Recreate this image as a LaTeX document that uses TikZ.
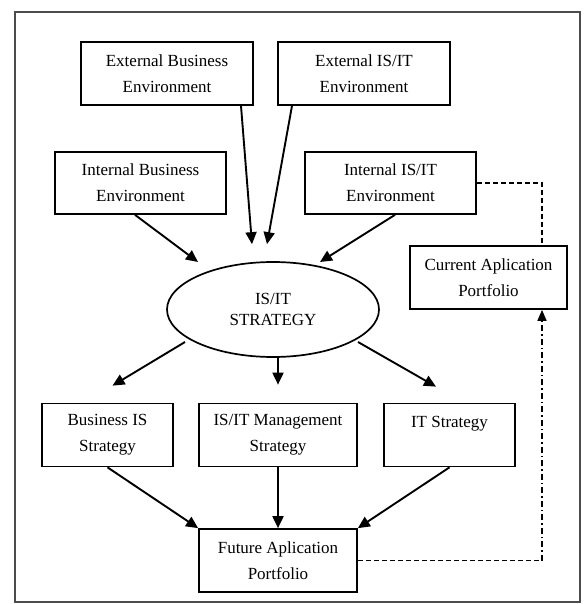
\documentclass[tikz,border=0pt]{standalone}
\usepackage{fontspec}
\setmainfont{Liberation Serif}
\usetikzlibrary{arrows.meta,shapes.geometric}
\begin{document}
\begin{tikzpicture}[x=1pt,y=-1pt,
  boxnode/.style={draw=black,line width=1.7pt,fill=white,align=center,inner sep=0pt,
    font=\fontsize{17}{26}\selectfont},
  arr/.style={line width=1.9pt,-{Triangle[length=12pt,width=11pt]}},
  dashline/.style={line width=1.6pt,dash pattern=on 5pt off 3pt},
  dashdotline/.style={line width=1.6pt,dash pattern=on 6pt off 3pt on 1.5pt off 3pt,-{Triangle[length=11pt,width=9pt]}}
]
\useasboundingbox (0,0) rectangle (586,604);
\draw[draw=black!70,line width=1.6pt] (15,12) rectangle (580,602);

\node[boxnode,minimum width=172pt,minimum height=63pt] (extbus) at (167,73.5) {External Business\\Environment};
\node[boxnode,minimum width=172pt,minimum height=63pt] (extis) at (364,73.5) {External IS/IT\\Environment};
\node[boxnode,minimum width=171pt,minimum height=62pt] (intbus) at (140.5,183) {Internal Business\\Environment};
\node[boxnode,minimum width=171pt,minimum height=62pt] (intis) at (390.5,183) {Internal IS/IT\\Environment};
\node[boxnode,minimum width=157pt,minimum height=63pt] (current) at (488.5,277.5) {Current Aplication\\Portfolio};
\node[draw=black,line width=1.7pt,ellipse,minimum width=212pt,minimum height=95pt,inner sep=0pt,align=center,
  font=\fontsize{17}{21}\selectfont] (strat) at (273,309.5) {IS/IT\\STRATEGY};
\node[boxnode,minimum width=131pt,minimum height=63pt] (busis) at (107.5,435) {Business IS\\Strategy};
\node[boxnode,minimum width=158pt,minimum height=63pt] (mgmt) at (278,435) {IS/IT Management\\Strategy};
\node[boxnode,minimum width=131pt,minimum height=63pt] (itstr) at (449.5,435) {IT Strategy\\\phantom{S}};
\node[boxnode,minimum width=158pt,minimum height=63pt] (future) at (278,560.5) {Future Aplication\\Portfolio};

% inputs to strategy
\draw[arr] ([xshift=74pt]extbus.south) -- ([xshift=-21pt,yshift=17pt]strat.north);
\draw[arr] ([xshift=-72pt]extis.south) -- ([xshift=-6pt,yshift=17pt]strat.north);
\draw[arr] ([xshift=-5.5pt]intbus.south) -- ([xshift=-75pt,yshift=47.5pt]strat.center);
\draw[arr] ([xshift=4.5pt]intis.south) -- ([xshift=47pt,yshift=47.5pt]strat.center);

% strategy outputs
\draw[arr] ([xshift=-88pt,yshift=-32.5pt]strat.center) -- ([xshift=5pt,yshift=17pt]busis.north);
\draw[arr] (strat.south -| mgmt.north) -- ([yshift=18pt]mgmt.north);
\draw[arr] ([xshift=85pt,yshift=-32.5pt]strat.center) -- ([xshift=-13.5pt,yshift=16pt]itstr.north);

% into future portfolio
\draw[arr] (busis.south) -- (future.north west);
\draw[arr] (mgmt.south) -- (future.north);
\draw[arr] (itstr.south) -- (future.north east);

% dashed links
\coordinate (ctop) at ([xshift=53.5pt]current.north);
\coordinate (cbot) at ([xshift=53.5pt]current.south);
\draw[dashline] (intis.east) -| (ctop);
\coordinate (corner) at (future.east -| cbot);
\draw[dashline] (future.east) -- (corner);
\draw[dashdotline] (corner) -- (cbot);
\end{tikzpicture}
\end{document}
